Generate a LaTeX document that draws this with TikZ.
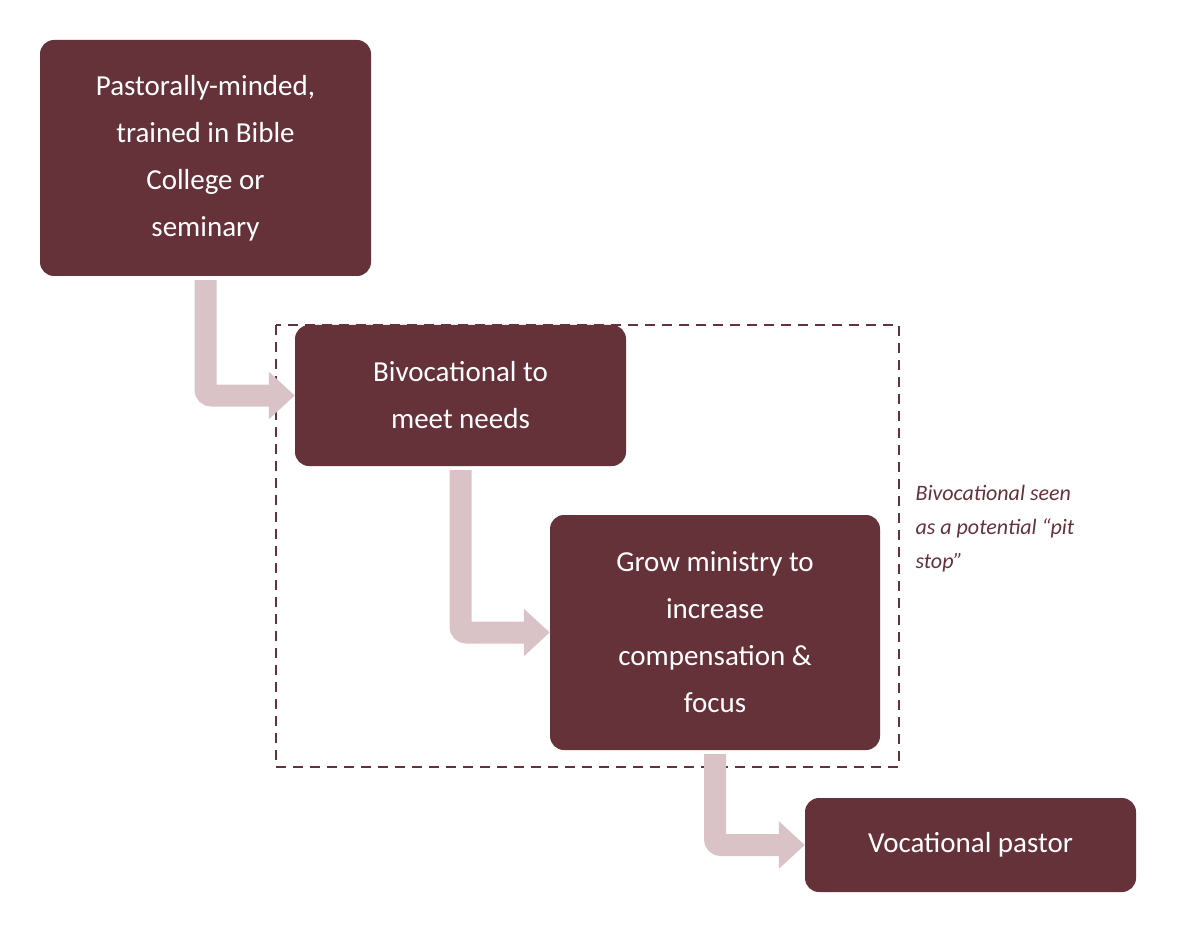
\documentclass[tikz,border=0pt]{standalone}
\usepackage{fontspec}
\setmainfont{Carlito}
\usetikzlibrary{arrows.meta}
\definecolor{boxc}{HTML}{65323A}
\definecolor{arrc}{HTML}{D9C3C6}
\begin{document}
\begin{tikzpicture}[x=1pt,y=-1pt,
 box/.style={fill=boxc,rounded corners=14pt,text=white,align=center,font=\fontsize{29}{47}\selectfont},
 flow/.style={draw=arrc,line width=22pt,-{Triangle[length=26pt,width=46pt]},rounded corners=6pt}]
\useasboundingbox (0,0) rectangle (1178,933);
\draw[boxc,line width=2.5pt,dash pattern=on 10pt off 7pt] (276,325) rectangle (899,767);
\node[box,minimum width=331pt,minimum height=236pt] (a) at (205.5,158) {Pastorally-minded,\\trained in Bible\\College or\\seminary};
\node[box,minimum width=331pt,minimum height=141pt] (b) at (460.5,395.5) {Bivocational to\\meet needs};
\node[box,minimum width=330pt,minimum height=235pt] (c) at (715,632.5) {Grow ministry to\\increase\\compensation \&\\focus};
\node[box,minimum width=331pt,minimum height=94pt] (d) at (970.5,845) {Vocational pastor};
\node[text=boxc,align=left,anchor=north west,font=\fontsize{22}{34}\selectfont\itshape] (n) at (912,482) {Bivocational seen\\as a potential “pit\\stop”};
\draw[flow] ([xshift=0pt]a.south) ++(0,4) |- (b.west);
\draw[flow] (b.south) ++(0,4) |- (c.west);
\draw[flow] (c.south) ++(0,4) |- (d.west);
\end{tikzpicture}
\end{document}
